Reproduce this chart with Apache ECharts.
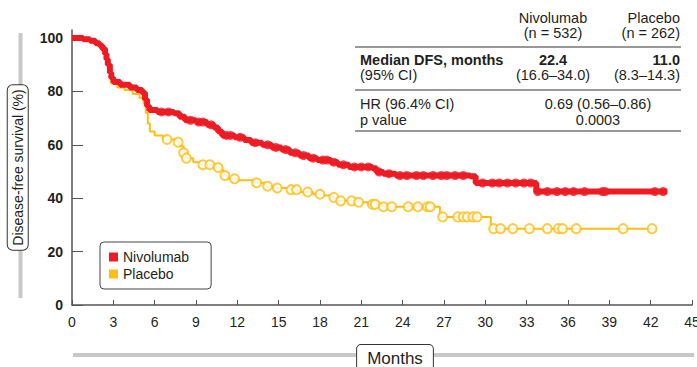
<!DOCTYPE html>
<html>
<head>
<meta charset="utf-8">
<script src="https://cdn.jsdelivr.net/npm/echarts@6/dist/echarts.min.js"></script>
<style>
html,body{margin:0;padding:0;background:#fff;}
#chart{width:697px;height:367px;}
</style>
</head>
<body>
<div id="chart"></div>
<script>
// ---------- data ----------
const xTicks = [0, 3, 6, 9, 12, 15, 18, 21, 24, 27, 30, 33, 36, 39, 42, 45];
const yTicks = [0, 20, 40, 60, 80, 100];

// Kaplan-Meier steps [month, % disease-free]
const nivoKM = [
  [0,100],[0.8,99.5],[1.3,99],[1.7,98],[2.0,97.2],[2.2,96],[2.4,94],[2.5,92],[2.6,90],
  [2.75,87],[2.85,85],[3.0,83.5],[3.5,82.5],[4.2,81.5],[4.7,80.5],[5.1,79.5],[5.3,77],
  [5.45,74.5],[5.6,73],[6.2,72.3],[7.4,71.8],[7.8,70.5],[8.2,69.2],[9.0,68.5],[9.8,67.5],
  [10.3,66.5],[10.6,65],[10.9,63.5],[11.8,62.8],[12.5,61.8],[13.0,60.8],[13.8,60],
  [14.5,59],[15.2,58.2],[15.8,57],[16.5,56],[17.2,55],[17.8,54.3],[18.8,53.5],[19.3,52.5],
  [20.1,51.7],[21.8,51.2],[22.1,49.8],[22.6,49.2],[23.5,48.5],[28.9,48.2],[29.3,45.7],
  [33.7,42.5],[43.2,42.5]
];
const placeboKM = [
  [0,100],[0.8,99.5],[1.3,99],[1.7,98],[2.0,97.2],[2.2,96],[2.4,94],[2.5,92],[2.6,90],
  [2.75,87],[2.85,83],[3.3,81.5],[3.8,80.5],[4.4,79],[4.9,77.5],[5.2,75.5],[5.35,72],
  [5.5,68],[5.65,65],[6.0,63.5],[6.6,62],[7.6,61],[7.8,59.5],[8.1,57],[8.3,55],[8.8,53.5],
  [9.4,52.5],[10.3,51.5],[10.9,50.5],[11.0,48.5],[11.3,47.3],[12.0,46.7],[13.2,45.8],
  [14.0,44.5],[14.6,43.8],[15.8,43.2],[16.5,42.3],[17.5,41.5],[18.3,41],[18.9,40.3],
  [19.3,39],[20.5,38.5],[21.5,37.7],[22.5,36.8],[26.7,33.0],[30.4,28.6],[42.3,28.6]
];
// censored observations [month, %]
const nivoCensor = [
  [6.5,72.3],[7.0,72.3],[8.6,69.2],[9.2,68.5],[9.5,68.5],[10.1,67.5],[11.2,63.5],[11.5,63.5],
  [12.2,62.8],[13.3,60.8],[14.2,60],[14.8,59],[15.5,58.2],[16.2,57],[16.8,56],[17.5,55],
  [18.2,54.3],[18.5,54.3],[19.0,53.5],[19.7,52.5],[20.5,51.7],[21.0,51.7],[21.5,51.7],
  [22.3,49.8],[23.0,49.2],[23.8,48.5],[24.3,48.5],[25.0,48.5],[25.5,48.5],[26.2,48.5],
  [26.8,48.5],[27.2,48.5],[27.8,48.5],[28.4,48.5],[29.8,45.7],[30.5,45.7],[31.0,45.7],
  [31.6,45.7],[32.2,45.7],[32.8,45.7],[33.3,45.7],[33.8,42.5],[34.5,42.5],[35.2,42.5],
  [35.8,42.5],[36.4,42.5],[37.2,42.5],[38.5,42.5],[38.7,42.5],[42.3,42.5],[42.9,42.5]
];
const placeboCensor = [
  [6.9,62],[7.7,61],[8.1,57],[8.3,55],[9.5,52.5],[10.0,52.5],[10.6,51.5],[11.1,48.5],
  [11.8,47.3],[13.4,45.8],[14.2,44.5],[14.9,43.8],[15.9,43.2],[16.3,43.2],[17.1,42.3],
  [18.0,41.5],[19.0,40.3],[19.5,39],[20.3,39],[20.8,38.5],[21.8,37.7],[22.0,37.7],
  [22.6,36.8],[23.2,36.8],[24.4,36.8],[25.1,36.8],[25.8,36.8],[26.0,36.8],[26.9,33],
  [28.0,33],[28.4,33],[28.7,33],[29.1,33],[29.4,33],[30.6,28.6],[31.1,28.6],[32.0,28.6],
  [33.2,28.6],[34.5,28.6],[35.3,28.6],[35.6,28.6],[36.6,28.6],[40.0,28.6],[42.1,28.6]
];

const seriesNames = ['Nivolumab', 'Placebo'];
const xAxisTitle = 'Months';
const yAxisTitle = 'Disease-free survival (%)';

// table text
const tableHead = ['Nivolumab', '(n = 532)', 'Placebo', '(n = 262)'];
const tableRow1 = ['Median DFS, months', '(95% CI)', '22.4', '(16.6–34.0)', '11.0', '(8.3–14.3)'];
const tableRow2 = ['HR (96.4% CI)', 'p value', '0.69 (0.56–0.86)', '0.0003'];

// ---------- style ----------
const RED = '#ED1C24';
const YEL = '#FDBE14';
const FONT = '"Liberation Sans", Arial, Helvetica, sans-serif';
const TXT = '#231f20';

const chart = echarts.init(document.getElementById('chart'), null, {renderer: 'svg'});

function t(text, x, y, align, bold) {
  return {type: 'text', x: x, y: y, z: 10,
    style: {text: text, fill: TXT, font: (bold ? 'bold ' : '') + '14.5px ' + FONT,
            textAlign: align, textVerticalAlign: 'middle'}};
}
function rule(y) {
  return {type: 'line', z: 10, shape: {x1: 355, y1: y, x2: 681, y2: y},
          style: {stroke: '#333', lineWidth: 1}};
}

const graphics = [
  // gray axis-title bars
  {type: 'rect', z: -1, shape: {x: 18.5, y: 33, width: 4, height: 265}, style: {fill: '#c8c8c8'}},
  {type: 'rect', z: -1, shape: {x: 73, y: 353, width: 621, height: 4}, style: {fill: '#c8c8c8'}},
  // x axis title box
  {type: 'text', x: 395, y: 358, z: 10,
   style: {text: xAxisTitle, fill: TXT, font: '17px ' + FONT, textAlign: 'center', textVerticalAlign: 'middle',
           backgroundColor: '#fff', borderColor: '#333', borderWidth: 1, borderRadius: 4, padding: [3, 10, 6, 10]}},
  // table
  t(tableHead[0], 553, 18, 'center'), t(tableHead[1], 553, 33, 'center'),
  t(tableHead[2], 680, 18, 'right'), t(tableHead[3], 680, 33, 'right'),
  rule(47),
  t(tableRow1[0], 360, 60, 'left', true), t(tableRow1[1], 360, 75, 'left'),
  t(tableRow1[2], 553, 60, 'center', true), t(tableRow1[3], 553, 75, 'center'),
  t(tableRow1[4], 680, 60, 'right', true), t(tableRow1[5], 680, 75, 'right'),
  rule(90),
  t(tableRow2[0], 360, 104, 'left'), t(tableRow2[1], 360, 120, 'left'),
  t(tableRow2[2], 598, 104, 'center'), t(tableRow2[3], 598, 120, 'center'),
  rule(131)
];

const option = {
  animation: false,
  backgroundColor: '#fff',
  textStyle: {fontFamily: FONT},
  grid: {left: 72, right: 5, top: 30, bottom: 62, containLabel: false, outerBoundsMode: 'none'},
  legend: {
    left: 100, top: 242, orient: 'vertical',
    data: [{name: seriesNames[0], itemStyle: {color: RED}}, {name: seriesNames[1], itemStyle: {color: YEL}}],
    icon: 'rect', itemWidth: 9, itemHeight: 9, itemGap: 3,
    textStyle: {fontSize: 14, color: TXT, fontFamily: FONT, lineHeight: 14},
    padding: [8, 22, 8, 9],
    borderColor: '#444', borderWidth: 1, borderRadius: 4, backgroundColor: '#fff',
    selectedMode: false
  },
  xAxis: {
    type: 'value', min: 0, max: 45, interval: 3,
    axisLine: {lineStyle: {color: '#555', width: 1.5}},
    axisTick: {inside: true, length: 5, lineStyle: {color: '#555'}},
    axisLabel: {fontSize: 14, color: TXT, margin: 10, fontFamily: FONT,
      customValues: xTicks},
    splitLine: {show: false}
  },
  yAxis: {
    type: 'value', min: 0, max: 103,
    axisLine: {show: true, lineStyle: {color: '#555', width: 1.5}},
    axisTick: {show: true, inside: true, length: 11, lineStyle: {color: '#555'}, customValues: yTicks},
    axisLabel: {fontSize: 14, fontWeight: 'bold', color: TXT, margin: 9, fontFamily: FONT,
      customValues: yTicks},
    splitLine: {show: false},
    name: yAxisTitle, nameLocation: 'middle', nameRotate: 90, nameGap: 44,
    nameTextStyle: {fontSize: 14, color: TXT, fontFamily: FONT, backgroundColor: '#fff',
      borderColor: '#333', borderWidth: 1, borderRadius: 5, padding: [3, 4, 3, 4]}
  },
  series: [
    {name: seriesNames[1], type: 'line', step: 'end', data: placeboKM, showSymbol: false,
     lineStyle: {color: YEL, width: 2}, itemStyle: {color: YEL}, z: 2},
    {name: seriesNames[1], type: 'scatter', data: placeboCensor, symbol: 'emptyCircle', symbolSize: 9,
     itemStyle: {color: YEL, borderColor: YEL, borderWidth: 2}, z: 3},
    {name: seriesNames[0], type: 'line', step: 'end', data: nivoKM, showSymbol: false,
     lineStyle: {color: RED, width: 6}, itemStyle: {color: RED}, z: 4},
    {name: seriesNames[0], type: 'scatter', data: nivoCensor, symbol: 'circle', symbolSize: 9,
     itemStyle: {color: RED}, z: 5}
  ],
  graphic: graphics
};
chart.setOption(option);
</script>
</body>
</html>
